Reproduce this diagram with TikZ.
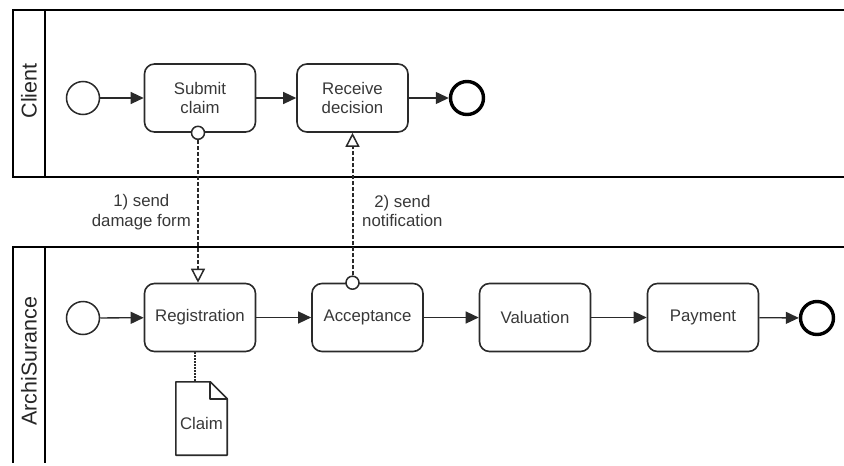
\documentclass[tikz,border=0pt]{standalone}
\usepackage{fontspec}
\setmainfont{Liberation Sans}
\usetikzlibrary{arrows.meta,calc}
\definecolor{ink}{HTML}{2A2A2A}
\definecolor{txt}{HTML}{383838}
\begin{document}
\begin{tikzpicture}[x=1pt,y=-1pt,
  every node/.style={text=txt},
  task/.style={draw=ink,line width=1.6pt,rounded corners=10pt,minimum width=111pt,
    minimum height=68pt,align=center,inner sep=0pt,
    font=\fontsize{16.8}{19.5}\selectfont},
  startev/.style={circle,draw=ink,line width=1.5pt,minimum size=33pt,inner sep=0pt},
  endev/.style={circle,draw=black,line width=3.4pt,minimum size=33pt,inner sep=0pt},
  seq/.style={draw=ink,line width=1.3pt,-{Triangle[length=13pt,width=12pt]}},
  msg/.style={draw=ink,line width=2pt,dash pattern=on 4pt off 2pt,
    -{Triangle[open,length=14pt,width=14pt,fill=white,line width=1.5pt]}},
  msgdot/.style={circle,draw=ink,fill=white,line width=1.5pt,minimum size=13pt,inner sep=0pt},
  assoc/.style={draw=ink,line width=2pt,dash pattern=on 1.8pt off 1.2pt},
  poolline/.style={draw=black,line width=2pt},
  poolname/.style={rotate=90,font=\fontsize{21.5}{24}\selectfont,text=black!85},
  msglabel/.style={align=center,font=\fontsize{16.8}{19.5}\selectfont,inner sep=0pt},
  docshape/.style={draw=ink,line width=1.6pt,line join=round}
]
\useasboundingbox (0,0) rectangle (844,466);

% pools and their name columns
\draw[poolline] (844,10) -- (13,10) -- (13,177) -- (844,177);
\draw[poolline] (45,10) -- (45,177);
\draw[poolline] (844,247) -- (13,247) -- (13,463);
\draw[poolline] (45,247) -- (45,463);
\node[poolname] (pclient) at (29,91) {Client};
\node[poolname] (parchi) at (29,361) {ArchiSurance};

% client process
\node[startev] (s1) at (83,98) {};
\node[task] (sub) at (200,98) {Submit\\claim};
\node[task] (rec) at (352.5,98) {Receive\\decision};
\node[endev] (e1) at (467,98) {};
\draw[seq] (s1) -- (sub);
\draw[seq] (sub) -- (rec);
\draw[seq] (rec) -- (e1);

% insurer process
\node[startev] (s2) at (83,318) {};
\node[task] (reg) at (200,317.5) {Registration};
\node[task] (acc) at (367.5,317.5) {Acceptance};
\node[task] (val) at (535,317.5) {Valuation};
\node[task] (pay) at (703,317.5) {Payment};
\node[endev] (e2) at (817,318) {};
\draw[seq] (s2) -- (reg);
\draw[seq] (reg) -- (acc);
\draw[seq] (acc) -- (val);
\draw[seq] (val) -- (pay);
\draw[seq] (pay) -- (e2);

% message flows between the pools
\node[msgdot] (m1) at ($(sub.south)+(-2,0)$) {};
\draw[msg] (m1) -- (m1 |- reg.north);
\node[msgdot] (m2) at (acc.north -| rec.south) {};
\draw[msg] (m2) -- (m2 |- rec.south);
\node[msglabel,anchor=east] (l1) at (191,212) {1) send\\damage form};
\node[msglabel,anchor=west] (l2) at (362,211) {2) send\\notification};

% data object attached to registration
\node[minimum width=51pt,minimum height=73pt,inner sep=0pt] (doc) at (201.5,418.5) {};
\draw[docshape] (doc.north west) -- ($(doc.north east)+(-17,0)$) -- ($(doc.north east)+(0,17)$)
  -- (doc.south east) -- (doc.south west) -- cycle;
\draw[docshape] ($(doc.north east)+(-17,0)$) -- ($(doc.north east)+(-17,17)$) -- ($(doc.north east)+(0,17)$);
\node[font=\fontsize{16.8}{19.5}\selectfont] (doct) at ($(doc.center)+(0,5)$) {Claim};
\draw[assoc] ($(reg.south)+(-5,0)$) -- ($(doc.north)+(-6.5,0)$);
\end{tikzpicture}
\end{document}
